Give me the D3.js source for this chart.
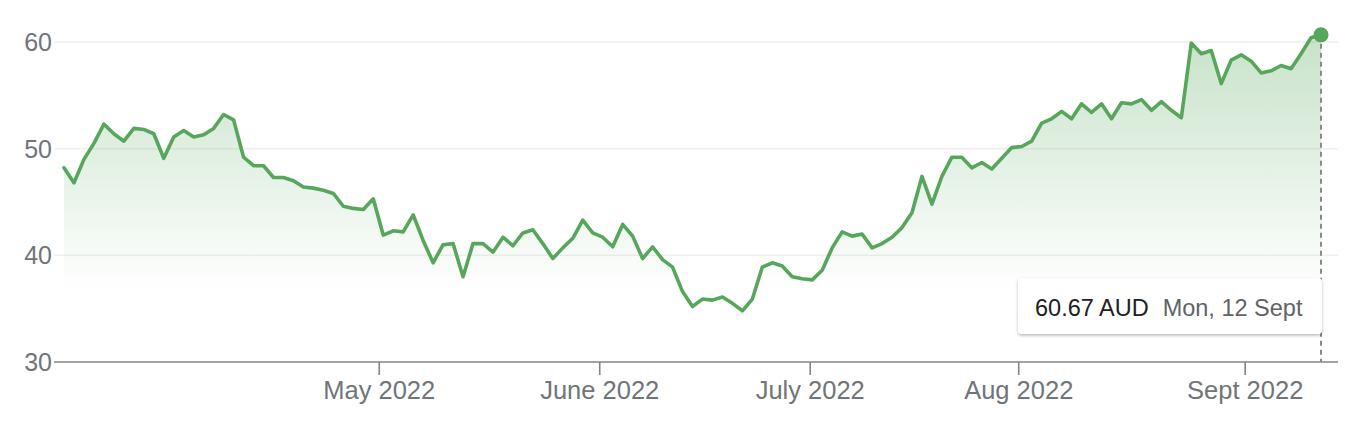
<!DOCTYPE html>
<head>
<meta charset="utf-8">
<title>Share price chart</title>
<script type="text/javascript" src="https://d3js.org/d3.v7.min.js"></script>
<style>
  body { margin: 0; background: #fff; }
  text { font-family: "Liberation Sans", Arial, sans-serif; }
</style>
</head>

<body>
<div id="container"></div>
<script>

// closing prices, one per trading day (index 0 = first day shown)
const prices = [
  48.2, 46.8, 49.0, 50.5, 52.3, 51.4, 50.7, 51.9, 51.8, 51.4,
  49.1, 51.1, 51.7, 51.1, 51.3, 51.9, 53.2, 52.7, 49.2, 48.4,
  48.4, 47.3, 47.3, 47.0, 46.4, 46.3, 46.1, 45.8, 44.6, 44.4,
  44.3, 45.3, 41.9, 42.3, 42.2, 43.8, 41.4, 39.3, 41.0, 41.1,
  38.0, 41.1, 41.1, 40.3, 41.7, 40.9, 42.1, 42.4, 41.1, 39.7,
  40.7, 41.6, 43.3, 42.1, 41.7, 40.8, 42.9, 41.8, 39.7, 40.8,
  39.6, 38.9, 36.6, 35.2, 35.9, 35.8, 36.1, 35.5, 34.8, 35.9,
  38.9, 39.3, 39.0, 38.0, 37.8, 37.7, 38.6, 40.7, 42.2, 41.8,
  42.0, 40.7, 41.1, 41.7, 42.6, 44.0, 47.4, 44.8, 47.4, 49.2,
  49.2, 48.2, 48.7, 48.1, 49.1, 50.1, 50.2, 50.7, 52.4, 52.8,
  53.5, 52.8, 54.2, 53.4, 54.2, 52.8, 54.3, 54.2, 54.6, 53.6,
  54.4, 53.6, 52.9, 59.9, 58.9, 59.2, 56.1, 58.3, 58.8, 58.2,
  57.1, 57.3, 57.8, 57.5, 58.9, 60.4, 60.67
]

// month boundaries, in trading-day index units
const monthTicks = [31.6, 53.7, 74.8, 95.7, 118.4]
const monthLabels = ["May 2022", "June 2022", "July 2022", "Aug 2022", "Sept 2022"]

const yTicks = [30, 40, 50, 60]
const currency = "AUD"
const lastDateLabel = "Mon, 12 Sept"

function chart() {
  const width = 1350; const height = 424;
  const margin = ({top: 42, right: 29, bottom: 62, left: 64})
  const green = "#56a75c"

  const svg = d3.select("div#container").append("svg")
      .attr("width", width).attr("height", height)
      .attr("viewBox", [0, 0, width, height])

  const xScale = d3.scaleLinear().domain([0, prices.length - 1])
    .range([margin.left, width - margin.right])
  const yScale = d3.scaleLinear().domain([30, 60])
    .range([height - margin.bottom, margin.top])

  const defs = svg.append("defs")
  const grad = defs.append("linearGradient").attr("id", "fade")
    .attr("gradientUnits", "userSpaceOnUse")
    .attr("x1", 0).attr("x2", 0)
    .attr("y1", yScale(60)).attr("y2", yScale(30))
  grad.append("stop").attr("offset", 0).attr("stop-color", green).attr("stop-opacity", 0.32)
  grad.append("stop").attr("offset", 0.78).attr("stop-color", green).attr("stop-opacity", 0)

  const shadow = defs.append("filter").attr("id", "shadow")
    .attr("x", -0.1).attr("y", -0.3).attr("width", 1.2).attr("height", 1.7)
  shadow.append("feDropShadow").attr("dx", 0).attr("dy", 1.5)
    .attr("stdDeviation", 1.8).attr("flood-color", "#000").attr("flood-opacity", 0.28)

  // gridlines
  const x0 = margin.left - 10; const x1 = width - 12
  svg.append("g").selectAll("line").data(yTicks.filter(d => d > 30)).join("line")
    .attr("x1", x0).attr("x2", x1)
    .attr("y1", d => yScale(d)).attr("y2", d => yScale(d))
    .attr("stroke", "#efefef").attr("stroke-width", 1.5)

  // y labels
  svg.append("g").selectAll("text").data(yTicks).join("text")
    .attr("x", margin.left - 12).attr("y", d => yScale(d))
    .attr("dy", "0.36em").attr("text-anchor", "end")
    .attr("font-size", 25).attr("fill", "#70757a")
    .text(d => d)

  // area + line
  const area = d3.area()
    .x((d, i) => xScale(i)).y0(yScale(30)).y1(d => yScale(d))
  svg.append("path").datum(prices)
    .attr("d", area).attr("fill", "url(#fade)")

  const line = d3.line()
    .x((d, i) => xScale(i)).y(d => yScale(d))
  svg.append("path").datum(prices)
    .attr("d", line).attr("fill", "none")
    .attr("stroke", green).attr("stroke-width", 3.6)
    .attr("stroke-linejoin", "round").attr("stroke-linecap", "round")

  // x axis
  const base = yScale(30)
  svg.append("line")
    .attr("x1", x0).attr("x2", x1).attr("y1", base).attr("y2", base)
    .attr("stroke", "#80868b").attr("stroke-width", 1.6)
  const xt = svg.append("g").selectAll("g").data(monthTicks).join("g")
    .attr("transform", d => `translate(${xScale(d)},${base})`)
  xt.append("line").attr("y2", 13).attr("stroke", "#80868b").attr("stroke-width", 1.6)
  xt.append("text").attr("y", 37).attr("text-anchor", "middle")
    .attr("font-size", 25.5).attr("fill", "#70757a")
    .text((d, i) => monthLabels[i])

  // hover marker on last point
  const li = prices.length - 1
  const lx = xScale(li); const ly = yScale(prices[li])
  svg.append("line")
    .attr("x1", lx).attr("x2", lx).attr("y1", ly).attr("y2", base)
    .attr("stroke", "#8a8a8a").attr("stroke-width", 2).attr("stroke-dasharray", "5,4")
  svg.append("circle").attr("cx", lx).attr("cy", ly).attr("r", 7.5).attr("fill", green)

  // tooltip
  const boxW = 304; const boxH = 56
  const tip = svg.append("g")
    .attr("transform", `translate(${lx + 1 - boxW},${base - 28 - boxH})`)
  tip.append("rect").attr("width", boxW).attr("height", boxH).attr("rx", 4)
    .attr("fill", "#fff").attr("filter", "url(#shadow)")
  const tt = tip.append("text").attr("x", 17).attr("y", 38).attr("font-size", 23.5)
  tt.append("tspan").attr("fill", "#202124").text(`${prices[li].toFixed(2)} ${currency}`)
  tt.append("tspan").attr("fill", "#5f6368").attr("dx", 14).text(lastDateLabel)

  return svg.node()
}

chart()

</script>
</body>
